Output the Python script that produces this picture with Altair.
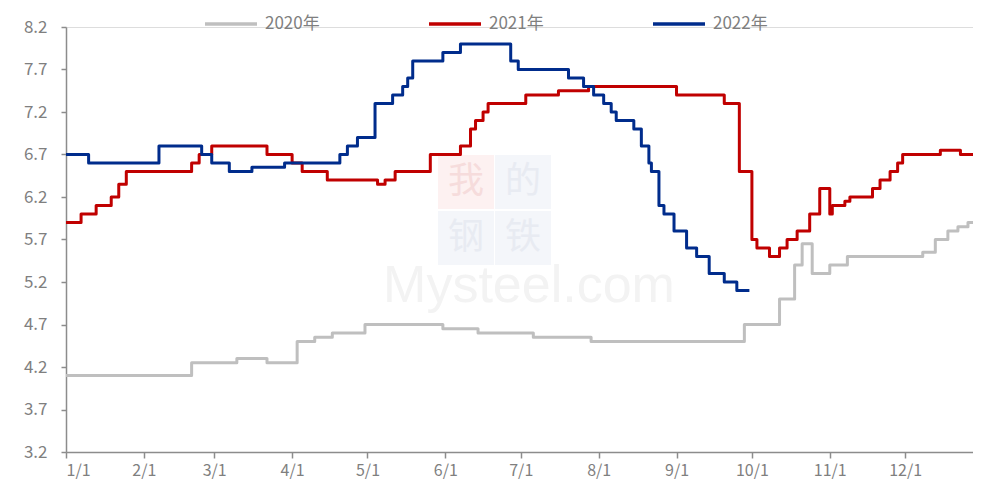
import altair as alt
import pandas as pd

series_names = ["2020年", "2021年", "2022年"]
series_colors = ["#BFBFBF", "#C00000", "#002C8C"]

# change dates (month-day) and levels for each year, placed on a common calendar
dates_2020 = ["01-01", "02-20", "03-10", "03-22", "04-03", "04-10", "04-17", "04-30",
              "05-31", "06-14", "07-06", "07-29", "09-28", "10-12", "10-18", "10-21",
              "10-25", "11-01", "11-08", "12-08", "12-13", "12-18", "12-22", "12-26", "12-28"]
values_2020 = [4.1, 4.25, 4.3, 4.25, 4.5, 4.55, 4.6, 4.7,
               4.65, 4.6, 4.55, 4.5, 4.7, 5.0, 5.4, 5.65,
               5.3, 5.4, 5.5, 5.55, 5.7, 5.8, 5.85, 5.9, 5.9]

dates_2021 = ["01-01", "01-07", "01-13", "01-19", "01-22", "01-25", "02-20", "02-23",
              "02-28", "03-22", "04-01", "04-05", "04-15", "05-05", "05-08", "05-12",
              "05-26", "06-07", "06-11", "06-13", "06-16", "06-18", "07-03", "07-16",
              "07-28", "09-01", "09-20", "09-26", "10-01", "10-03", "10-08", "10-12",
              "10-15", "10-19", "10-24", "10-28", "11-01", "11-02", "11-07", "11-09",
              "11-18", "11-21", "11-25", "11-28", "11-30", "12-15", "12-23", "12-28"]
values_2021 = [5.9, 6.0, 6.1, 6.2, 6.35, 6.5, 6.6, 6.7,
               6.8, 6.7, 6.6, 6.5, 6.4, 6.35, 6.4, 6.5,
               6.7, 6.8, 7.0, 7.1, 7.2, 7.3, 7.4, 7.45,
               7.5, 7.4, 7.3, 6.5, 5.7, 5.6, 5.5, 5.6,
               5.7, 5.8, 6.0, 6.3, 6.0, 6.1, 6.15, 6.2,
               6.3, 6.4, 6.5, 6.6, 6.7, 6.75, 6.7, 6.7]

dates_2022 = ["01-01", "01-10", "02-07", "02-24", "02-28", "03-07", "03-16", "03-29",
              "04-20", "04-23", "04-27", "05-04", "05-11", "05-15", "05-17", "05-19",
              "05-31", "06-07", "06-27", "06-30", "07-20", "07-26", "07-30", "08-03",
              "08-06", "08-08", "08-15", "08-18", "08-21", "08-22", "08-25", "08-27",
              "08-31", "09-05", "09-09", "09-14", "09-20", "09-25", "09-30"]
values_2022 = [6.7, 6.6, 6.8, 6.7, 6.6, 6.5, 6.55, 6.6,
               6.7, 6.8, 6.9, 7.3, 7.4, 7.5, 7.6, 7.8,
               7.9, 8.0, 7.8, 7.7, 7.6, 7.5, 7.4, 7.3,
               7.2, 7.1, 7.0, 6.8, 6.6, 6.5, 6.1, 6.0,
               5.8, 5.6, 5.5, 5.3, 5.2, 5.1, 5.1]

y_ticks = [3.2, 3.7, 4.2, 4.7, 5.2, 5.7, 6.2, 6.7, 7.2, 7.7, 8.2]
x_tick_months = [1, 2, 3, 4, 5, 6, 7, 8, 9, 10, 11, 12]

rows = []
for name, ds, vs in zip(series_names, [dates_2020, dates_2021, dates_2022],
                        [values_2020, values_2021, values_2022]):
    for d, v in zip(ds, vs):
        rows.append({"date": f"2021-{d}T00:00:00", "value": v, "series": name})
df = pd.DataFrame(rows)

font = "Noto Sans CJK SC"
axis_gray = "#8C8C8C"
label_gray = "#7F7F7F"

lines = alt.Chart(df).mark_line(
    interpolate="step-after", strokeWidth=3, strokeJoin="round", strokeCap="butt"
).encode(
    x=alt.X(
        "date:T",
        scale=alt.Scale(domain=[alt.DateTime(year=2021, month=1, date=1),
                                alt.DateTime(year=2021, month=12, date=28)]),
        axis=alt.Axis(
            title=None,
            values=[alt.DateTime(year=2021, month=m, date=1) for m in x_tick_months],
            format="%-m/%-d",
            grid=False,
            labelFontSize=16,
            labelColor=label_gray,
            labelFont=font,
            labelPadding=4,
            tickSize=6,
            tickColor=axis_gray,
            domainColor=axis_gray,
            domainWidth=1.5,
            tickWidth=1.5,
        ),
    ),
    y=alt.Y(
        "value:Q",
        scale=alt.Scale(domain=[3.2, 8.2], nice=False, zero=False),
        axis=alt.Axis(
            title=None,
            values=y_ticks,
            format=".1f",
            grid=False,
            labelFontSize=17,
            labelColor=label_gray,
            labelFont=font,
            labelPadding=14,
            tickSize=5,
            tickColor=axis_gray,
            domainColor=axis_gray,
            domainWidth=1.5,
            tickWidth=1.5,
        ),
    ),
    color=alt.Color(
        "series:N",
        scale=alt.Scale(domain=series_names, range=series_colors),
        legend=alt.Legend(
            title=None,
            orient="none",
            legendX=137,
            legendY=-31,
            direction="horizontal",
            symbolType="stroke",
            symbolSize=2704,
            symbolStrokeWidth=3.5,
            labelFontSize=17,
            labelColor=label_gray,
            labelFont=font,
            labelOffset=6,
            columnPadding=102,
            padding=0,
        ),
    ),
    order=alt.Order("series:N"),
)

# faint watermark
wm_chars = ["我", "的", "钢", "铁"]
wm_text_colors = ["#F6DCDC", "#E8EBF2", "#E8EBF2", "#E8EBF2"]
wm_bg_colors = ["#FDF1F1", "#F4F6FA", "#F4F6FA", "#F4F6FA"]
wm_pos = [(400, 155), (457, 155), (400, 211), (457, 211)]
wm_layers = []
for t, c, bg, (px, py) in zip(wm_chars, wm_text_colors, wm_bg_colors, wm_pos):
    wm_layers.append(
        alt.Chart(pd.DataFrame({"t": [t]})).mark_rect(color=bg).encode(
            x=alt.value(px - 28), x2=alt.value(px + 28),
            y=alt.value(py - 27), y2=alt.value(py + 27))
    )
    wm_layers.append(
        alt.Chart(pd.DataFrame({"t": [t]})).mark_text(
            fontSize=36, font="Noto Sans CJK SC", color=c, baseline="middle", align="center"
        ).encode(text="t:N", x=alt.value(px), y=alt.value(py))
    )
wm_layers.append(
    alt.Chart(pd.DataFrame({"t": ["Mysteel.com"]})).mark_text(
        fontSize=52, font="Liberation Sans", color="#F3F3F3", baseline="alphabetic", align="center"
    ).encode(text="t:N", x=alt.value(463), y=alt.value(275))
)

chart = alt.layer(*wm_layers, lines).properties(
    width=907,
    height=425,
    padding={"left": 58, "top": 19, "right": 0, "bottom": 28},
    autosize="none",
).configure_view(stroke=None).configure(font=font)

chart.save("out.html", embed_options={"renderer": "svg", "actions": False})
